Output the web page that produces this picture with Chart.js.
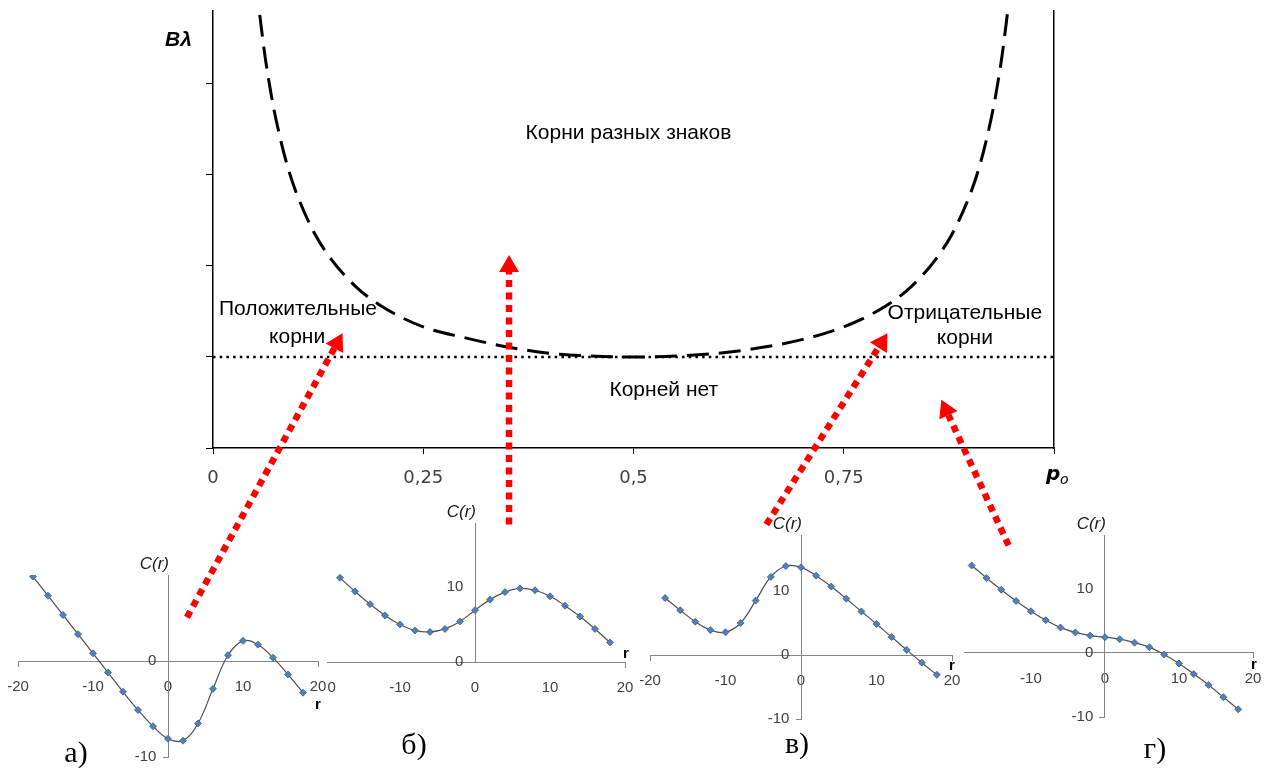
<!DOCTYPE html>
<html><head><meta charset="utf-8">
<script src="https://cdn.jsdelivr.net/npm/chart.js@4/dist/chart.umd.min.js"></script>
<style>
html,body{margin:0;padding:0;background:#fff;width:1270px;height:771px;overflow:hidden}
#wrap{position:relative;width:1270px;height:771px}
canvas{position:absolute;display:block}
</style></head><body>
<div id="wrap">
<canvas id="cB" width="335" height="230" style="left:310px;top:490px;width:335px;height:230px;z-index:1;background:#fff"></canvas>
<canvas id="cA" width="327" height="231" style="left:0px;top:540px;width:327px;height:231px;z-index:2;background:#fff"></canvas>
<canvas id="cV" width="326" height="271" style="left:634px;top:500px;width:326px;height:271px;z-index:1;background:#fff"></canvas>
<canvas id="cG" width="310" height="271" style="left:960px;top:500px;width:310px;height:271px;z-index:2;background:#fff"></canvas>
<canvas id="main" width="1270" height="771" style="left:0;top:0;width:1270px;height:771px;z-index:10"></canvas>
</div>
<script>
// ---------- main diagram data ----------
const pValues = [0.04,0.05,0.06,0.07,0.08,0.09,0.10,0.12,0.14,0.17,0.20,0.25,0.30,0.35,0.40,0.45,0.50,0.55,0.60,0.65,0.70,0.75,0.80,0.83,0.86,0.88,0.90,0.91,0.92,0.93,0.94,0.95,0.96];
const bLambdaValues = [6.51,5.26,4.43,3.84,3.40,3.05,2.78,2.37,2.08,1.77,1.56,1.33,1.21,1.11,1.04,1.01,1.00,1.01,1.04,1.10,1.19,1.33,1.56,1.77,2.08,2.37,2.78,3.05,3.40,3.84,4.43,5.26,6.51];
const thresholdP = [0, 1];
const thresholdB = [1, 1];
const mainXTicks = [0, 0.25, 0.5, 0.75, 1];
const mainXTickLabels = ['0', '0,25', '0,5', '0,75', ''];
const mainYTicks = [0, 1, 2, 3, 4];
const regionTexts = ['Корни разных знаков', 'Положительные', 'корни', 'Корней нет', 'Отрицательные', 'корни'];
const regionTextP = [0.494, 0.101, 0.100, 0.536, 0.894, 0.894];
const regionTextB = [3.46, 1.52, 1.22, 0.63, 1.48, 1.21];
// arrows: tail (p,B) -> tip (p,B) in diagram units
const arrowTailP = [-0.031, 0.352, 0.658, 0.946];
const arrowTailB = [-1.86, -0.84, -0.84, -1.07];
const arrowTipP  = [0.154, 0.352, 0.802, 0.866];
const arrowTipB  = [1.26, 2.12, 1.26, 0.53];
const panelLabels = ['а)', 'б)', 'в)', 'г)'];

// ---------- small panels data ----------
const rValues = [-18,-16,-14,-12,-10,-8,-6,-4,-2,0,2,4,6,8,10,12,14,16,18];
const cA = [8.8,6.8,4.8,2.8,0.8,-1.2,-3.2,-5.1,-6.8,-8.1,-8.3,-6.5,-2.9,0.6,2.1,1.7,0.35,-1.4,-3.3];
const cB = [11.2,9.4,7.7,6.2,5.0,4.2,4.0,4.4,5.4,6.9,8.3,9.3,9.8,9.55,8.75,7.5,6.05,4.4,2.6];
const cV = [8.9,7.0,5.2,3.9,3.55,5.0,8.5,12.2,13.9,13.7,12.4,10.7,8.8,6.8,4.85,2.8,0.8,-1.2,-3.1];
const cG = [13.65,11.7,9.85,8.1,6.5,5.1,3.95,3.2,2.7,2.45,2.15,1.6,0.9,-0.25,-1.65,-3.3,-5.0,-6.9,-8.8];
const xTicksSmall = [-20, -10, 0, 10, 20];
const xTicksSmallG = [-10, 0, 10, 20];
const yTicksA = [-10, 0];
const yTicksB = [0, 10];
const yTicksV = [-10, 0, 10];
const yTicksG = [-10, 0, 10];

function zeroPad(s) { s.paddingLeft = 0; s.paddingRight = 0; s.paddingTop = 0; s.paddingBottom = 0; }

// ---------- main chart ----------
const mainDecor = {
  id: 'mainDecor',
  afterDatasetsDraw(chart) {
    const {ctx, scales: {x, y}, chartArea} = chart;
    ctx.save();
    ctx.fillStyle = '#000';
    ctx.font = '21px "Liberation Sans", Arial, sans-serif';
    ctx.textAlign = 'center'; ctx.textBaseline = 'middle';
    regionTexts.forEach((t, i) => ctx.fillText(t, x.getPixelForValue(regionTextP[i]), y.getPixelForValue(regionTextB[i])));
    // axis titles
    ctx.textAlign = 'left'; ctx.textBaseline = 'alphabetic';
    ctx.font = 'italic bold 21px "Liberation Sans", Arial, sans-serif';
    ctx.fillText('Bλ', chartArea.left - 48, chartArea.top + 35);
    ctx.font = 'italic bold 20px "DejaVu Sans", sans-serif';
    ctx.fillText('p', chartArea.right - 8, chartArea.bottom + 32);
    ctx.font = 'italic 14px "DejaVu Sans", sans-serif';
    ctx.fillText('o', chartArea.right + 6, chartArea.bottom + 36);
    // red dotted arrows
    ctx.strokeStyle = '#ff0000'; ctx.fillStyle = '#ff0000';
    for (let i = 0; i < arrowTailP.length; i++) {
      const x0 = x.getPixelForValue(arrowTailP[i]), y0 = y.getPixelForValue(arrowTailB[i]);
      const x1 = x.getPixelForValue(arrowTipP[i]), y1 = y.getPixelForValue(arrowTipB[i]);
      const ang = Math.atan2(y1 - y0, x1 - x0);
      const hl = 17, hw = 10;
      const bx = x1 - Math.cos(ang) * hl, by = y1 - Math.sin(ang) * hl;
      ctx.beginPath();
      ctx.setLineDash([7, 5.5]);
      ctx.lineWidth = 6.5; ctx.lineCap = 'butt';
      ctx.moveTo(x0, y0); ctx.lineTo(bx, by); ctx.stroke();
      ctx.setLineDash([]);
      ctx.beginPath();
      ctx.moveTo(x1, y1);
      ctx.lineTo(bx + Math.sin(ang) * hw, by - Math.cos(ang) * hw);
      ctx.lineTo(bx - Math.sin(ang) * hw, by + Math.cos(ang) * hw);
      ctx.closePath(); ctx.fill();
    }
    // panel letters
    ctx.fillStyle = '#000';
    ctx.font = '30px "Liberation Serif", "Times New Roman", serif';
    ctx.textAlign = 'center'; ctx.textBaseline = 'middle';
    const panelPos = [[76, 754], [414, 746], [797, 745], [1155, 750]];
    panelLabels.forEach((t, i) => ctx.fillText(t, panelPos[i][0], panelPos[i][1]));
    ctx.restore();
  }
};

new Chart(document.getElementById('main'), {
  type: 'line',
  data: {
    datasets: [
      {
        data: pValues.map((p, i) => ({x: p, y: bLambdaValues[i]})),
        borderColor: '#000', borderWidth: 3, borderDash: [22, 10],
        pointRadius: 0, cubicInterpolationMode: 'monotone', fill: false
      },
      {
        data: thresholdP.map((p, i) => ({x: p, y: thresholdB[i]})),
        borderColor: '#000', borderWidth: 2.5, borderDash: [2.5, 4.2],
        pointRadius: 0, fill: false, borderCapStyle: 'butt'
      }
    ]
  },
  options: {
    responsive: false, animation: false, devicePixelRatio: 1,
    layout: {padding: {left: 206, right: 216, top: 11, bottom: 283}},
    plugins: {legend: {display: false}, tooltip: {enabled: false}},
    scales: {
      x: {
        type: 'linear', min: 0, max: 1, position: 'bottom',
        afterBuildTicks: s => { s.ticks = mainXTicks.map(v => ({value: v})); },
        afterFit: s => { s.height = 40; zeroPad(s); },
        grid: {drawOnChartArea: false, drawTicks: true, tickLength: 6, color: '#000'},
        border: {display: true, color: '#000', width: 1.5},
        ticks: {callback: (v, i) => mainXTickLabels[i], padding: 14, color: '#404040',
                font: {family: '"DejaVu Sans", sans-serif', size: 18}, maxRotation: 0, autoSkip: false}
      },
      y: {
        type: 'linear', min: 0, max: 4.8, position: 'left',
        afterBuildTicks: s => { s.ticks = mainYTicks.map(v => ({value: v})); },
        afterFit: s => { s.width = 7; zeroPad(s); },
        grid: {drawOnChartArea: false, drawTicks: true, tickLength: 7, color: '#000'},
        border: {display: true, color: '#000', width: 1.5},
        ticks: {callback: () => '', padding: 0}
      },
      y2: {
        type: 'linear', min: 0, max: 4.8, position: 'right',
        afterFit: s => { s.width = 0; zeroPad(s); },
        grid: {display: false},
        border: {display: true, color: '#000', width: 1.5},
        ticks: {display: false}
      }
    }
  },
  plugins: [mainDecor]
});

// ---------- small panels ----------
const smallDecor = {
  id: 'smallDecor',
  afterDraw(chart, args, opts) {
    const {ctx, scales: {x, y}, chartArea} = chart;
    ctx.save();
    ctx.fillStyle = '#1a1a1a';
    ctx.font = 'italic 17px "Liberation Sans", Arial, sans-serif';
    ctx.textAlign = 'right'; ctx.textBaseline = 'alphabetic';
    ctx.fillText('C(r)', x.getPixelForValue(0) + 1, chartArea.top - 6);
    ctx.fillStyle = '#000';
    ctx.font = 'bold 15px "Liberation Sans", Arial, sans-serif';
    ctx.textAlign = 'center'; ctx.textBaseline = 'middle';
    ctx.fillText('r', chartArea.right + opts.rDx, y.getPixelForValue(0) + opts.rDy);
    ctx.restore();
  }
};

function smallChart(id, values, cfg) {
  const axisGray = '#868686';
  new Chart(document.getElementById(id), {
    type: 'line',
    data: {datasets: [{
      data: rValues.map((r, i) => ({x: r, y: values[i]})),
      borderColor: '#505050', borderWidth: 1.2, tension: 0.4,
      pointStyle: 'rectRot', pointRadius: 3.5, pointBackgroundColor: '#4F81BD',
      pointBorderColor: '#385D8A', pointBorderWidth: 0.8, fill: false
    }]},
    options: {
      responsive: false, animation: false, devicePixelRatio: 1,
      layout: {padding: cfg.pad},
      plugins: {legend: {display: false}, tooltip: {enabled: false}, smallDecor: {rDx: cfg.rDx, rDy: cfg.rDy}},
      scales: {
        x: {
          type: 'linear', min: cfg.xMin, max: cfg.xMax, position: {y: 0},
          afterBuildTicks: s => { s.ticks = cfg.xTicks.map(v => ({value: v})); },
          afterFit: s => { s.height = 0; zeroPad(s); },
          grid: {drawOnChartArea: false, drawTicks: true, tickLength: 5,
                 tickColor: c => (c.tick && Math.abs(c.tick.value) === 20) ? axisGray : 'rgba(0,0,0,0)'},
          border: {display: true, color: axisGray, width: 1},
          ticks: {padding: 12, color: '#404040', maxRotation: 0, autoSkip: false,
                  font: {family: '"Liberation Sans", Arial, sans-serif', size: 15}}
        },
        y: {
          type: 'linear', min: cfg.yMin, max: cfg.yMax, position: {x: 0},
          afterBuildTicks: s => { s.ticks = cfg.yTicks.map(v => ({value: v})); },
          afterFit: s => { s.width = 0; zeroPad(s); },
          grid: {drawOnChartArea: false, drawTicks: true, tickLength: 5,
                 tickColor: c => (c.tick && c.tick.value === -10) ? axisGray : 'rgba(0,0,0,0)'},
          border: {display: true, color: axisGray, width: 1},
          ticks: {padding: 8, color: '#404040', callback: v => v + '\u2002 ',
                  font: {family: '"Liberation Sans", Arial, sans-serif', size: 15}}
        }
      }
    },
    plugins: [smallDecor]
  });
}

smallChart('cA', cA, {pad: {left: 18, right: 9, top: 35, bottom: 14}, xMin: -20, xMax: 20, yMin: -10, yMax: 8.96,
  xTicks: xTicksSmall, yTicks: yTicksA, rDx: 0, rDy: 44});
smallChart('cB', cB, {pad: {left: 15, right: 20, top: 33, bottom: 58}, xMin: -20, xMax: 20, yMin: 0, yMax: 18.5,
  xTicks: xTicksSmall, yTicks: yTicksB, rDx: 1, rDy: -8});
smallChart('cV', cV, {pad: {left: 16, right: 8, top: 35, bottom: 52}, xMin: -20, xMax: 20, yMin: -10, yMax: 18.75,
  xTicks: xTicksSmall, yTicks: yTicksV, rDx: 0, rDy: 11});
smallChart('cG', cG, {pad: {left: 1, right: 17, top: 35, bottom: 54}, xMin: -18.93, xMax: 20, yMin: -10, yMax: 18.4,
  xTicks: xTicksSmallG, yTicks: yTicksG, rDx: 1, rDy: 12});
</script>
</body></html>
